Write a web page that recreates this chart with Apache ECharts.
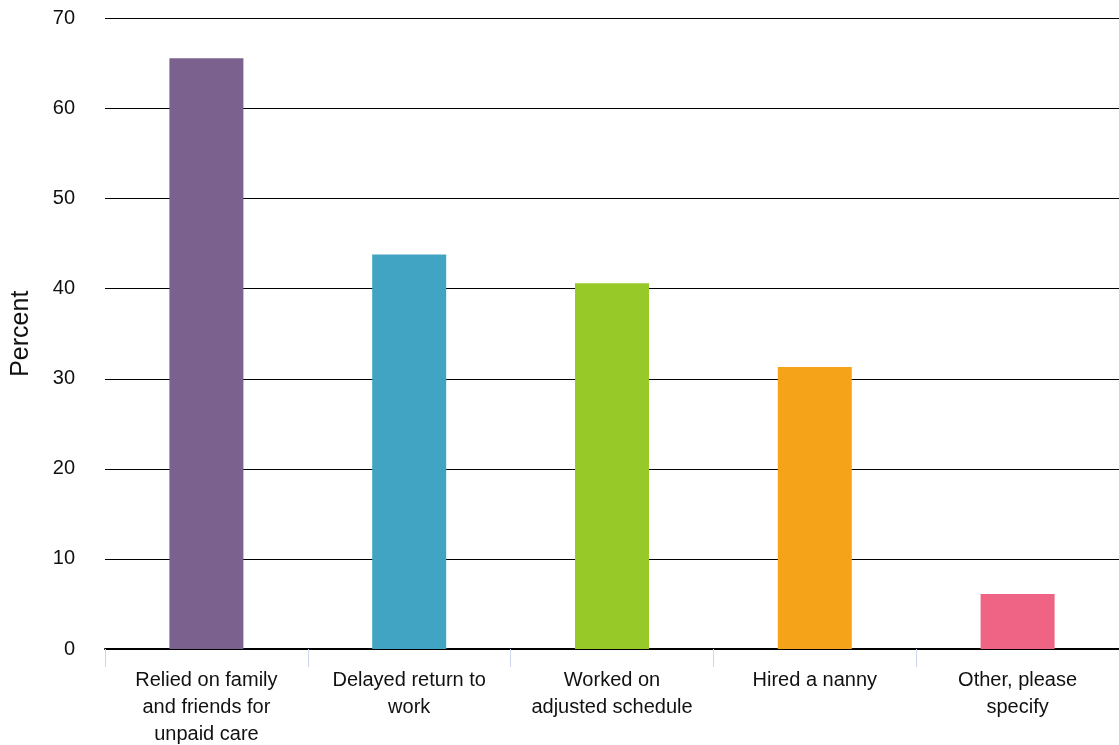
<!DOCTYPE html>
<html><head><meta charset="utf-8">
<script src="https://cdn.jsdelivr.net/npm/echarts@6/dist/echarts.min.js"></script>
<style>html,body{margin:0;padding:0;background:#fff}#c{width:1119px;height:745px}</style>
</head><body><div id="c"></div>
<script>
var categories = ["Relied on family\nand friends for\nunpaid care", "Delayed return to\nwork", "Worked on\nadjusted schedule", "Hired a nanny", "Other, please\nspecify"];
var values = [65.6, 43.8, 40.6, 31.3, 6.1];
var colors = ["#7B618D", "#40A4C2", "#97C928", "#F5A41A", "#EF6385"];
var yTicks = [0, 10, 20, 30, 40, 50, 60, 70];
var chart = echarts.init(document.getElementById('c'));
chart.setOption({
  animation: false,
  grid: {left: 105, right: 0, top: 18.5, bottom: 96, containLabel: false, outerBoundsMode: 'none'},
  xAxis: {
    type: 'category', data: categories,
    axisLine: {show: true, lineStyle: {color: '#000', width: 2}},
    axisTick: {show: true, alignWithLabel: false, length: 18, lineStyle: {color: '#ccd6eb', width: 1}},
    axisLabel: {color: '#111', fontSize: 20, fontFamily: 'Liberation Sans, Arial, sans-serif', lineHeight: 27, margin: 18, interval: 0}
  },
  yAxis: {
    type: 'value', min: yTicks[0], max: yTicks[yTicks.length-1], interval: 10,
    name: 'Percent', nameLocation: 'middle', nameGap: 71, nameRotate: 90,
    nameTextStyle: {color: '#111', fontSize: 25, fontFamily: 'Liberation Sans, Arial, sans-serif'},
    axisLine: {show: false}, axisTick: {show: false},
    axisLabel: {color: '#111', fontSize: 20, fontFamily: 'Liberation Sans, Arial, sans-serif', margin: 30},
    splitLine: {lineStyle: {color: '#000', width: 1.2}}
  },
  series: [{
    type: 'bar', barWidth: 74,
    data: values.map(function(v, i){ return {value: v, itemStyle: {color: colors[i]}}; })
  }]
});
</script></body></html>
